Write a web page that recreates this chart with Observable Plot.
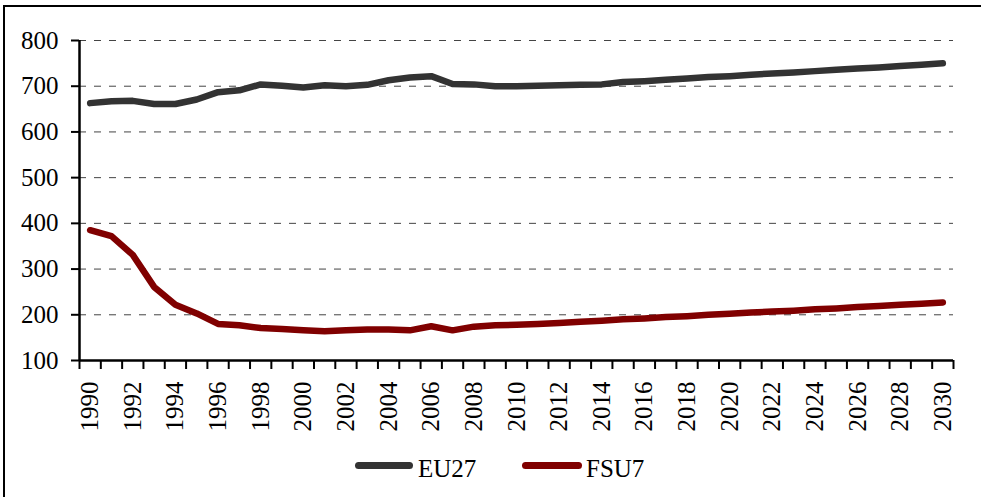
<!DOCTYPE html>
<html>
<head>
<meta charset="utf-8">
<script src="https://cdn.jsdelivr.net/npm/d3@7"></script>
<script src="https://cdn.jsdelivr.net/npm/@observablehq/plot@0.6"></script>
<style>
  html, body { margin: 0; padding: 0; background: #fff; }
  #wrap { position: relative; width: 981px; height: 497px; overflow: hidden; background: #fff; }
  #chart { position: absolute; left: 0; top: 0; }
  #chart svg, #chart svg text { font-family: "Liberation Serif", "Times New Roman", serif; }
  #frame { position: absolute; left: 3px; top: 5px; width: 2000px; height: 2000px;
           border-top: 2px solid #000; border-left: 2px solid #000; pointer-events: none; }
  .sw { position: absolute; height: 7px; border-radius: 3.5px; }
  .lt { position: absolute; font-family: "Liberation Serif", serif; font-size: 25px; line-height: 25px; color: #000; white-space: nowrap; }
</style>
</head>
<body>
<div id="wrap">
  <div id="chart"></div>
  <div id="frame"></div>
  <div id="legend"></div>
</div>
<script>
const years = d3.range(1990, 2031);
const seriesNames = ["EU27", "FSU7"];
const seriesColors = ["#333333", "#800000"];
const eu27 = [663, 667, 668, 661, 661, 671, 687, 691, 704, 701,
              697, 702, 700, 703, 713, 719, 722, 705, 704, 700,
              700, 701, 702, 703, 704, 709, 711, 714, 717, 720,
              722, 725, 728, 730, 733, 736, 739, 741, 744, 747,
              750];
const fsu7 = [385, 372, 331, 261, 222, 203, 180, 177, 171, 169,
              166, 164, 166, 168, 168, 166, 175, 166, 174, 177,
              178, 180, 182, 185, 187, 190, 192, 195, 197, 200,
              202, 205, 207, 209, 212, 214, 217, 219, 222, 224,
              227];
const yTicks = [100, 200, 300, 400, 500, 600, 700, 800];
const xLabelYears = years.filter(y => y % 2 === 0);
const xBoundaries = d3.range(1989.5, 2031, 1);

const data = [];
years.forEach((yr, i) => {
  data.push({year: yr, value: eu27[i], series: seriesNames[0]});
  data.push({year: yr, value: fsu7[i], series: seriesNames[1]});
});

const font = "Liberation Serif";

const plot = Plot.plot({
  width: 981,
  height: 440,
  marginLeft: 79,
  marginRight: 28,
  marginTop: 40,
  marginBottom: 80,
  style: {fontFamily: font, fontSize: "25px", color: "#000", background: "transparent"},
  x: {domain: [1989.5, 2030.5], axis: null, label: null},
  y: {domain: [100, 800], axis: null, label: null},
  color: {domain: seriesNames, range: seriesColors},
  marks: [
    Plot.gridY(yTicks.filter(t => t > 100), {stroke: "#444", strokeOpacity: 1, strokeWidth: 1, strokeDasharray: "7,8"}),
    Plot.axisY({ticks: yTicks, label: null, tickSize: 8, tickPadding: 13, tickFormat: d => String(d), stroke: "#000", strokeWidth: 2, fontSize: 25, fontFamily: font}),
    Plot.axisX({ticks: xBoundaries, label: null, tickSize: 9, tickFormat: () => "", stroke: "#000", strokeWidth: 2}),
    Plot.axisX({ticks: xLabelYears, label: null, tickSize: 0, tickPadding: 21, tickRotate: -90, tickFormat: d => String(d), fontSize: 25, fontFamily: font}),
    Plot.ruleX([1989.5], {stroke: "#000", strokeWidth: 2.5}),
    Plot.ruleY([100], {stroke: "#000", strokeWidth: 2.5}),
    Plot.line(data, {x: "year", y: "value", z: "series", stroke: "series", strokeWidth: 6.5, strokeLinecap: "round", strokeLinejoin: "round"})
  ]
});
document.getElementById("chart").appendChild(plot);

// Legend (HTML, below the chart area)
const legend = document.getElementById("legend");
const items = [
  {name: seriesNames[0], color: seriesColors[0], swLeft: 355, swWidth: 58, textLeft: 418},
  {name: seriesNames[1], color: seriesColors[1], swLeft: 522, swWidth: 60, textLeft: 586}
];
items.forEach(it => {
  const sw = document.createElement("div");
  sw.className = "sw";
  sw.style.left = it.swLeft + "px";
  sw.style.top = "461.5px";
  sw.style.width = it.swWidth + "px";
  sw.style.background = it.color;
  legend.appendChild(sw);
  const t = document.createElement("div");
  t.className = "lt";
  t.style.left = it.textLeft + "px";
  t.style.top = "456px";
  t.textContent = it.name;
  legend.appendChild(t);
});
</script>
</body>
</html>
